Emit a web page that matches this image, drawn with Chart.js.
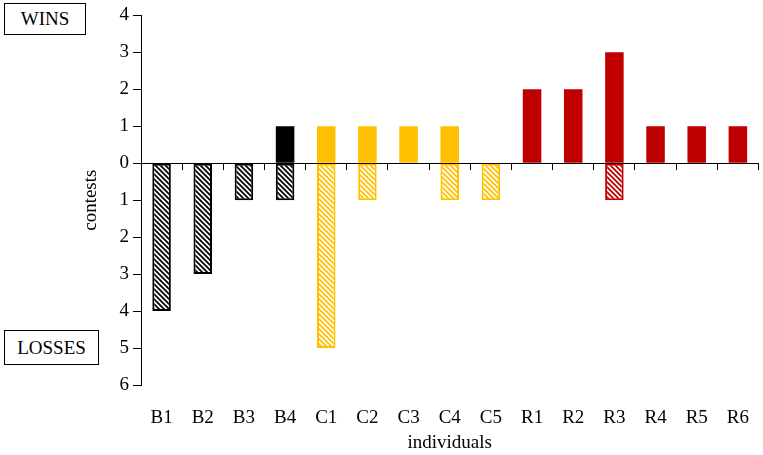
<!DOCTYPE html>
<html>
<head>
<meta charset="utf-8">
<script src="https://cdn.jsdelivr.net/npm/chart.js@4.4.1/dist/chart.umd.min.js"></script>
<style>
body{margin:0;background:#fff;}
#wrap{position:relative;width:763px;height:455px;}
.box{position:absolute;border:1.5px solid #000;font-family:"Liberation Serif",serif;font-size:19px;text-align:center;box-sizing:border-box;background:#fff;color:#000;}
</style>
</head>
<body>
<div id="wrap">
  <canvas id="chart" width="763" height="455"></canvas>
  <div class="box" style="left:4px;top:3px;width:82px;height:32px;line-height:30px;">WINS</div>
  <div class="box" style="left:4px;top:330px;width:95px;height:35px;line-height:33px;">LOSSES</div>
</div>
<script>
// data
let individuals = ["B1","B2","B3","B4","C1","C2","C3","C4","C5","R1","R2","R3","R4","R5","R6"];
let wins   = [0,0,0,1,1,1,1,1,0,2,2,3,1,1,1];
let losses = [4,3,1,1,5,1,0,1,1,0,0,1,0,0,0];
let yTicks = [-6,-5,-4,-3,-2,-1,0,1,2,3,4];

// colour per group (first letter of the name)
let groupColors = {B:"#000000", C:"#FFC000", R:"#C00000"};

function hatch(color){
    let c = document.createElement("canvas");
    c.width = 5; c.height = 5;
    let g = c.getContext("2d");
    g.fillStyle = "#fff"; g.fillRect(0,0,5,5);
    g.strokeStyle = color; g.lineWidth = 1.8;
    g.beginPath();
    g.moveTo(-1,-1); g.lineTo(6,6);
    g.moveTo(-1,4); g.lineTo(1,6);
    g.moveTo(4,-1); g.lineTo(6,1);
    g.stroke();
    return g.createPattern(c,"repeat");
}

let solidCols = individuals.map(n => groupColors[n[0]]);
let hatchCols = individuals.map(n => hatch(groupColors[n[0]]));

const font = {family:"Liberation Serif", size:19};

new Chart(document.getElementById("chart").getContext("2d"), {
    type: "bar",
    data: {
        labels: individuals,
        datasets: [
            {label:"wins", data: wins.map(v => v || null), backgroundColor: solidCols, borderWidth:0},
            {label:"losses", data: losses.map(v => v ? -v : null), backgroundColor: hatchCols,
             borderColor: solidCols, borderWidth: 2, borderSkipped: false}
        ]
    },
    options: {
        responsive: false,
        animation: false,
        layout: {padding: {top: 6, right: 1, left: 0, bottom: 0}},
        plugins: {legend: {display: false}, tooltip: {enabled: false}},
        datasets: {bar: {categoryPercentage: 1, barPercentage: 0.45}},
        scales: {
            x: {
                stacked: true,
                grid: {display: false},
                border: {display: false},
                ticks: {color: "#000", font: font, padding: 14, maxRotation: 0, autoSkip: false},
                title: {display: true, text: "individuals", color: "#000", font: font, padding: {top: 0, bottom: 1}},
                afterFit: s => { s.height = 70; }
            },
            x2: {
                type: "category",
                position: {y: 0},
                offset: true,
                grid: {offset: true, drawOnChartArea: false, tickLength: 6, color: "#000"},
                border: {display: true, color: "#000", width: 1},
                ticks: {display: false},
                afterFit: s => { s.height = 0; }
            },
            y: {
                stacked: true,
                min: yTicks[0],
                max: yTicks[yTicks.length - 1],
                afterBuildTicks: s => { s.ticks = yTicks.map(v => ({value: v})); },
                grid: {drawOnChartArea: false, tickLength: 8, color: "#000"},
                border: {display: true, color: "#000", width: 1},
                ticks: {color: "#000", font: font, padding: 4, callback: v => Math.abs(v)},
                title: {display: true, text: "contests", color: "#000", font: font, padding: {top: 80, bottom: 0}},
                afterFit: s => { s.width = 141; }
            }
        }
    }
});
</script>
</body>
</html>
